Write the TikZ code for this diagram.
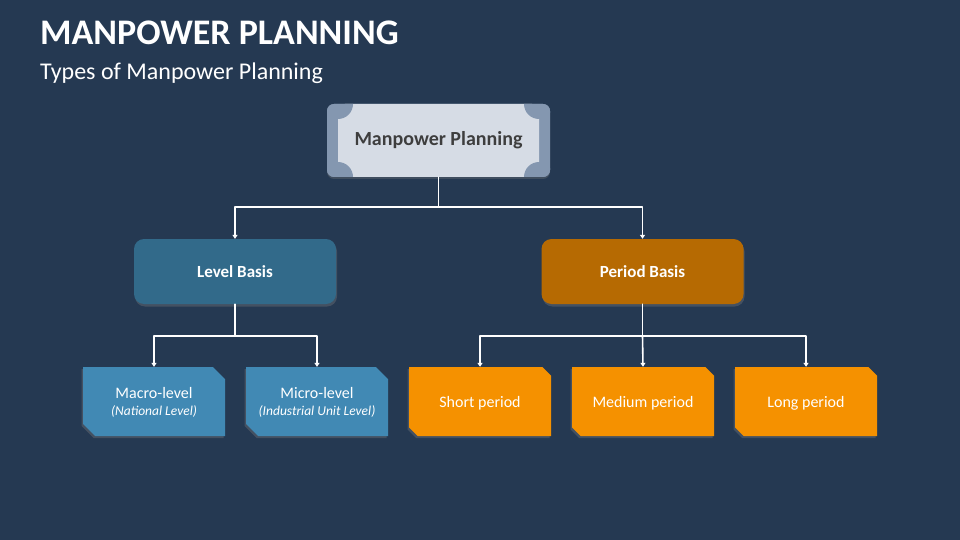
\documentclass[tikz,border=0pt]{standalone}
\usepackage{fontspec}
\setmainfont{Carlito}
\usetikzlibrary{arrows.meta,shapes.misc,shadows}
\definecolor{mpback}{RGB}{37,57,82}
\definecolor{mptoplight}{RGB}{214,220,229}
\definecolor{mptopdark}{RGB}{132,151,176}
\definecolor{mptoptext}{RGB}{62,62,62}
\definecolor{mplevel}{RGB}{50,106,138}
\definecolor{mpperiod}{RGB}{182,106,2}
\definecolor{mpblue}{RGB}{65,137,180}
\definecolor{mporange}{RGB}{245,145,0}
\newcommand{\mpnotefont}{\fontsize{13.5}{17}\selectfont\itshape}
\tikzset{
  mpbase/.style={x=1pt,y=-1pt,line cap=round,line join=round},
  mpwire/.style={draw=white,line width=1.6pt},
  mparrow/.style={mpwire,-{Triangle[length=4pt,width=5pt]}},
  mptopbox/.style={rectangle,minimum width=223pt,minimum height=73pt,rounded corners=7pt,
    fill=mptopdark,text=mptoptext,font=\fontsize{20}{24}\selectfont\bfseries,
    drop shadow={opacity=.3,shadow xshift=0pt,shadow yshift=-2pt},
    path picture={
      \fill[mptoplight] ([xshift=11pt]path picture bounding box.south west)
        rectangle ([xshift=-11pt]path picture bounding box.north east);
      \foreach \c/\s in {north west/11,south west/11,north east/-11,south east/-11}
        \fill[mptopdark] ([xshift=\s pt]path picture bounding box.\c) circle (15pt);
    }},
  mpmidbox/.style={rectangle,minimum width=202pt,minimum height=65pt,rounded corners=10pt,
    fill=#1,text=white,font=\fontsize{17}{20}\selectfont\bfseries,
    drop shadow={opacity=.35,shadow xshift=1pt,shadow yshift=-2.5pt}},
  mpleaf/.style={chamfered rectangle,chamfered rectangle corners={north east,south west},
    chamfered rectangle xsep=9pt,minimum width=142pt,minimum height=69pt,inner sep=0pt,
    fill=#1,text=white,align=center,text depth=0pt,font=\fontsize{16}{17.5}\selectfont,
    drop shadow={opacity=.35,shadow xshift=-1.5pt,shadow yshift=-2pt}}
}
\begin{document}
\begin{tikzpicture}[mpbase]
\fill[mpback] (0,0) rectangle (960,540);
\useasboundingbox (0,0) rectangle (960,540);
% heading
\node[anchor=base west,inner sep=0pt,text=white,font=\fontsize{36}{40}\selectfont\bfseries] (title) at (40,45) {MANPOWER PLANNING};
\node[anchor=base west,inner sep=0pt,text=white,font=\fontsize{24}{28}\selectfont] (subtitle) at (40,80) {Types of Manpower Planning};
% boxes
\node[mptopbox] (plan) at (438.5,140.5) {Manpower Planning};
\node[mpmidbox=mplevel] (level) at (235,271.5) {Level Basis};
\node[mpmidbox=mpperiod] (period) at (642.5,271.5) {Period Basis};
\node[mpleaf=mpblue] (macro) at (154,401.5) {Macro-level\\{\mpnotefont (National Level)}};
\node[mpleaf=mpblue] (micro) at (317,401.5) {Micro-level\\{\mpnotefont (Industrial Unit Level)}};
\node[mpleaf=mporange] (short) at (480,401.5) {Short period};
\node[mpleaf=mporange] (medium) at (643,401.5) {Medium period};
\node[mpleaf=mporange] (long) at (806,401.5) {Long period};
% connectors
\coordinate (planfork) at (438.5,207);
\coordinate (levelfork) at (235,336);
\coordinate (periodfork) at (642.5,336);
\draw[mpwire] (plan.south) -- (planfork);
\draw[mparrow] (planfork) -| (level.north);
\draw[mparrow] (planfork) -| (period.north);
\draw[mpwire] (level.south) -- (levelfork);
\draw[mparrow] (levelfork) -| (macro.north);
\draw[mparrow] (levelfork) -| (micro.north);
\draw[mpwire] (period.south) -- (periodfork);
\draw[mparrow] (periodfork) -| (short.north);
\draw[mparrow] (periodfork) -- (medium.north);
\draw[mparrow] (periodfork) -| (long.north);
\end{tikzpicture}
\end{document}
